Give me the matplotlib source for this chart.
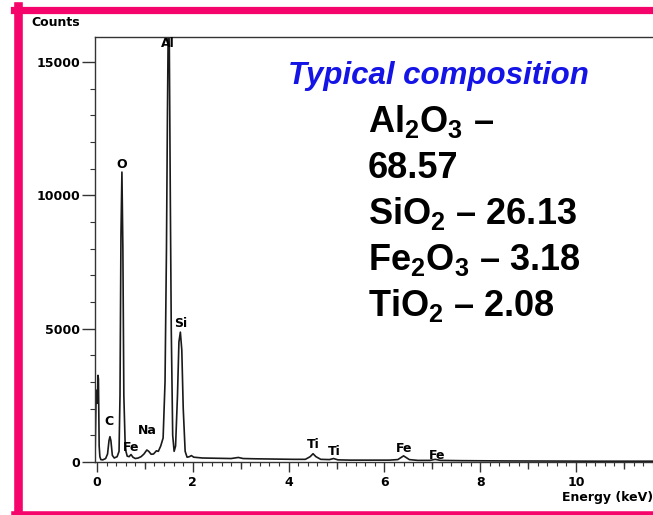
import numpy as np
import matplotlib
matplotlib.use('Agg')
import matplotlib.pyplot as plt
from matplotlib.lines import Line2D

# EDS spectrum (energy in keV, counts)
energy = [-0.04, -0.02, 0.0, 0.01, 0.02, 0.03, 0.045, 0.06, 0.08, 0.12,
          0.18, 0.22, 0.25, 0.27, 0.29, 0.32, 0.36, 0.42, 0.46, 0.48,
          0.50, 0.52, 0.54, 0.56, 0.59, 0.63, 0.67, 0.71, 0.75, 0.80,
          0.86, 0.92, 0.98, 1.04, 1.08, 1.13, 1.18, 1.24, 1.28, 1.33,
          1.38, 1.42, 1.45, 1.47, 1.49, 1.51, 1.53, 1.55, 1.58, 1.61,
          1.64, 1.68, 1.71, 1.74, 1.77, 1.80, 1.84, 1.88, 1.93, 1.97,
          2.02, 2.2, 2.5, 2.8, 2.95, 3.05, 3.3, 3.7, 4.1, 4.35,
          4.45, 4.51, 4.57, 4.67, 4.85, 4.94, 5.03, 5.3, 5.7, 6.1,
          6.28, 6.40, 6.52, 6.7, 6.95, 7.06, 7.17, 7.6, 8.5, 9.5,
          10.5, 11.6]
counts = [300, 2400, 2700, 2200, 3250, 3100, 600, 200, 90, 80,
          130, 300, 800, 950, 800, 250, 150, 200, 400, 2500,
          8500, 10870, 8000, 2500, 500, 220, 200, 280, 180, 130,
          150, 200, 300, 450, 400, 290, 300, 420, 400, 600,
          900, 3000, 8000, 13000, 17000, 15500, 10000, 5000, 1000, 400,
          600, 2500, 4500, 4870, 4200, 2000, 400, 180, 200, 240,
          180, 150, 140, 130, 170, 130, 120, 110, 100, 100,
          200, 310, 200, 100, 90, 130, 80, 70, 70, 70,
          90, 230, 90, 60, 60, 100, 60, 50, 40, 35,
          30, 30]

# peak labels: (text, energy, counts)
peak_names = ['Al', 'O', 'Si', 'C', 'Fe', 'Na', 'Ti', 'Ti', 'Fe', 'Fe']
peak_x = [1.48, 0.52, 1.75, 0.25, 0.71, 1.06, 4.51, 4.95, 6.41, 7.10]
peak_y = [15680, 11170, 5190, 1500, 560, 1170, 640, 380, 490, 260]

composition = ['Al$_2$O$_3$ –', '68.57', 'SiO$_2$ – 26.13',
               'Fe$_2$O$_3$ – 3.18', 'TiO$_2$ – 2.08']

W, H = 653, 515


def fx(px):
    return px / W


def fy(py):
    return 1 - py / H


def plot_spectrum(fig):
    ax = fig.add_axes([fx(95), fy(462), fx(653) - fx(95), fy(37) - fy(462)])
    ax.plot(energy, counts, color='#1a1a1a', lw=1.2)
    ax.set_xlim(-0.042, 11.607)
    ax.set_ylim(0, 15937)

    ax.spines['right'].set_visible(False)
    for s in ['left', 'top', 'bottom']:
        ax.spines[s].set_linewidth(1.0)
        ax.spines[s].set_color('#333333')

    ax.set_xticks([0, 2, 4, 6, 8, 10])
    ax.set_xticks(np.arange(0, 11.7, 0.2), minor=True)
    ax.set_yticks([0, 5000, 10000, 15000])
    ax.set_yticks(np.arange(0, 16000, 1000), minor=True)
    lab = dict(fontsize=9, fontweight='bold', family='DejaVu Sans')
    ax.set_xticklabels(['0', '2', '4', '6', '8', '10'], **lab)
    ax.set_yticklabels(['0', '5000', '10000', '15000'], **lab)
    ax.tick_params(axis='x', which='major', length=7, width=1, pad=3, color='#333333')
    ax.tick_params(axis='x', which='minor', length=3, width=0.8, color='#333333')
    ax.tick_params(axis='y', which='major', length=9.5, width=1, pad=1, color='#333333')
    ax.tick_params(axis='y', which='minor', length=3.5, width=0.8, color='#333333')

    # medium ticks at odd keV
    sec = ax.secondary_xaxis('bottom')
    sec.set_xticks([1, 3, 5, 7, 9, 11])
    sec.set_xticklabels([])
    sec.tick_params(length=5, width=1, color='#333333')
    sec.spines['bottom'].set_visible(False)

    for name, x, y in zip(peak_names, peak_x, peak_y):
        ax.text(x, y, name, ha='center', va='center', **lab)
    return ax


def main():
    plt.rcParams['mathtext.fontset'] = 'custom'
    plt.rcParams['mathtext.bf'] = 'Liberation Sans:bold'
    plt.rcParams['mathtext.rm'] = 'Liberation Sans:bold'
    plt.rcParams['mathtext.default'] = 'bf'

    fig = plt.figure(figsize=(W / 100, H / 100), dpi=100)
    fig.patch.set_facecolor('white')

    plot_spectrum(fig)

    fig.text(fx(31), fy(23), 'Counts', ha='left', va='center',
             fontsize=9, fontweight='bold', family='DejaVu Sans')
    fig.text(fx(653), fy(498), 'Energy (keV)', ha='right', va='center',
             fontsize=9, fontweight='bold', family='DejaVu Sans')

    fig.text(fx(288), fy(84), 'Typical composition', color='#1414E6',
             fontsize=22.5, fontweight='bold', style='italic',
             family='Liberation Sans', va='baseline')
    for i, line in enumerate(composition):
        fig.text(fx(368), fy(132 + 46 * i), line, color='black',
                 fontsize=26, fontweight='bold', family='Liberation Sans',
                 va='baseline')

    # pink slide frame
    pink = '#F5046C'
    fig.add_artist(Line2D([fx(18), fx(18)], [fy(6), fy(515)], color=pink, lw=6.2))
    fig.add_artist(Line2D([fx(14), 1.0], [fy(9.5), fy(9.5)], color=pink, lw=5.2))
    fig.add_artist(Line2D([fx(14), 1.0], [fy(514), fy(514)], color=pink, lw=4.0))

    fig.savefig('out.png', dpi=100)


if __name__ == '__main__':
    main()
